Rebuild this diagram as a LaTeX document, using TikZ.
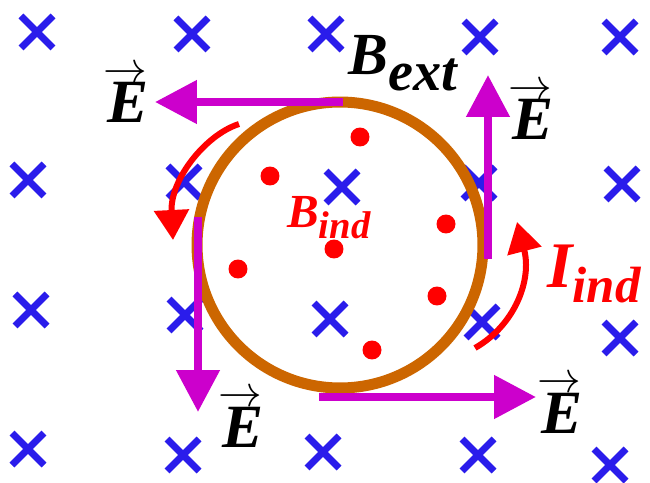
\documentclass[tikz,border=0pt]{standalone}
\usepackage{fontspec}
\setmainfont{Liberation Serif}
\usepackage{xcolor}
\usepackage{tikz}
\usetikzlibrary{arrows.meta}
\definecolor{fieldblue}{HTML}{2A1CEB}
\definecolor{ringorange}{HTML}{CC6600}
\definecolor{emagenta}{HTML}{CC00CC}
\definecolor{indred}{HTML}{FF0000}
\newcommand{\evec}{\makebox[0pt][l]{\hspace{-0.06em}\raisebox{23pt}{\normalfont\fontsize{34}{34}\selectfont$\rightarrow$}}E}

\begin{document}
\begin{tikzpicture}[
  x=0.02cm, y=-0.02cm,
  bx/.style={draw=fieldblue,line width=0.14cm},
  ring/.style={draw=ringorange,line width=0.22cm},
  dot/.style={fill=indred},
  efield/.style={draw=emagenta,line width=0.16cm,
                 -{Triangle[length=0.84cm,width=0.84cm]}},
  icur/.style={draw=indred,line width=0.12cm,
               -{Triangle[length=0.6cm,width=0.68cm]}},
  elab/.style={font=\fontsize{35}{40}\selectfont\bfseries\itshape,
               anchor=base,inner sep=0pt},
  blab/.style={anchor=base west,inner sep=0pt},
]
\useasboundingbox (0,0) rectangle (650,483);

% ---- External field (into the page)
\foreach \px/\py in {37/32,192/34,326/34,480/37,620/37,
                     28/180,184/182,342/187,479/183,622/184,
                     31/310,185/315,330/319,482/322,620/338,
                     28/449,183/455,323/452,478/455,610/465}
  \draw[bx] (\px-16,\py-16) -- (\px+16,\py+16)
            (\px-16,\py+16) -- (\px+16,\py-16);

% ---- Loop
\draw[ring] (340,245) circle[radius=2.86cm];

% ---- Induced field (out of the page)
\foreach \px/\py in {360/137,270/176,446/224,334/249,238/269,437/296,372/350}
  \fill[dot] (\px,\py) circle[radius=0.19cm];

% ---- Electric field along the loop
\draw[efield] (343,102) -- (155,102);
\draw[efield] (488,259) -- (488,75);
\draw[efield] (198,217) -- (198,412);
\draw[efield] (319,397) -- (536,397);

\node[elab] (etl) at (128,123) {\evec};
\node[elab] (etr) at (533,140) {\evec};
\node[elab] (ebl) at (243,447) {\evec};
\node[elab] (ebr) at (562,433) {\evec};

% ---- Induced current
\draw[icur] (239,124) .. controls (205,135) and (170,180) .. (173,240);
\draw[icur] (475,348) .. controls (515,325) and (532,280) .. (517,222);

% ---- Labels
\node[blab] (bext) at (348,75)
  {\bfseries\itshape\fontsize{34}{40}\selectfont B\fontsize{32}{36}\selectfont\raisebox{-9pt}{ext}};
\node[blab,text=indred] (bind) at (287,228)
  {\bfseries\itshape\fontsize{27}{32}\selectfont B\fontsize{22}{26}\selectfont\raisebox{-5.7pt}{ind}};
\node[blab,text=indred] (iind) at (547,288)
  {\bfseries\itshape\fontsize{37}{42}\selectfont I\fontsize{29}{34}\selectfont\raisebox{-8pt}{ind}};

\end{tikzpicture}
\end{document}
